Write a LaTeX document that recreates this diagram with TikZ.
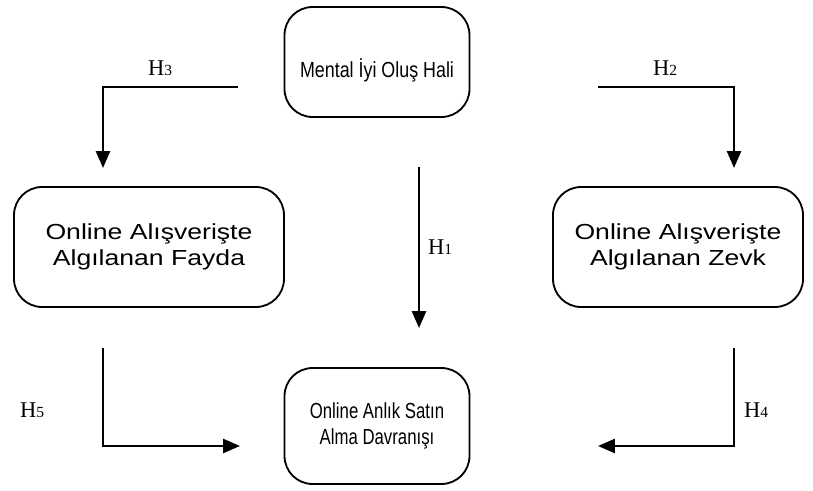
\documentclass[tikz,border=0pt]{standalone}
\usepackage{fontspec}
\setmainfont{Liberation Serif}
\newfontfamily\genisfont[FakeStretch=1.22]{Liberation Sans}
\newfontfamily\ustfont[FakeStretch=0.82]{Liberation Sans}
\newfontfamily\altfont[FakeStretch=0.77]{Liberation Sans}
\usetikzlibrary{arrows.meta}

\tikzset{
    kutu/.style={draw, line width=1.3pt, rounded corners=20, align=center, inner sep=2pt},
    ok/.style={line width=1.5pt, -{Triangle[length=12pt, width=10pt]}},
    hlabel/.style={font=\fontsize{16}{16}\selectfont}
}
\newcommand{\hyp}[1]{H{\fontsize{11}{11}\selectfont #1}}

\begin{document}
\begin{tikzpicture}[x=0.025cm, y=-0.025cm]
    \useasboundingbox (0, 0) rectangle (813, 491);

    \node[kutu, font=\ustfont\fontsize{15.5}{19}\selectfont, text height=0.8cm, text depth=0.05cm, minimum width=185*0.025cm, minimum height=110*0.025cm] (mental) at (377, 62) {Mental İyi Oluş Hali};
    \node[kutu, font=\genisfont\fontsize{15.5}{19}\selectfont, minimum width=270*0.025cm, minimum height=120*0.025cm] (fayda) at (149, 247) {Online Alışverişte\\Algılanan Fayda};
    \node[kutu, font=\genisfont\fontsize{15.5}{19}\selectfont, minimum width=250*0.025cm, minimum height=120*0.025cm] (zevk) at (678, 247) {Online Alışverişte\\Algılanan Zevk};
    \node[kutu, font=\altfont\fontsize{15.5}{19}\selectfont, minimum width=185*0.025cm, minimum height=116*0.025cm] (satin) at (377, 426) {Online Anlık Satın\\Alma Davranışı};

    % H3
    \coordinate (h3a) at (238, 87);
    \coordinate (h3b) at (103, 168);
    \draw[ok] (h3a) -| (h3b);
    \node[hlabel] (h3) at (160, 68) {\hyp{3}};

    % H2
    \coordinate (h2a) at (598, 87);
    \coordinate (h2b) at (734, 168);
    \draw[ok] (h2a) -| (h2b);
    \node[hlabel] (h2) at (665, 68) {\hyp{2}};

    % H1
    \coordinate (h1a) at (419, 167);
    \coordinate (h1b) at (419, 328);
    \draw[ok] (h1a) -- (h1b);
    \node[hlabel] (h1) at (440, 247) {\hyp{1}};

    % H5
    \coordinate (h5a) at (103, 348);
    \coordinate (h5b) at (240, 446);
    \draw[ok] (h5a) |- (h5b);
    \node[hlabel] (h5) at (32, 410) {\hyp{5}};

    % H4
    \coordinate (h4a) at (734, 348);
    \coordinate (h4b) at (598, 446);
    \draw[ok] (h4a) |- (h4b);
    \node[hlabel] (h4) at (756, 410) {\hyp{4}};
\end{tikzpicture}
\end{document}
